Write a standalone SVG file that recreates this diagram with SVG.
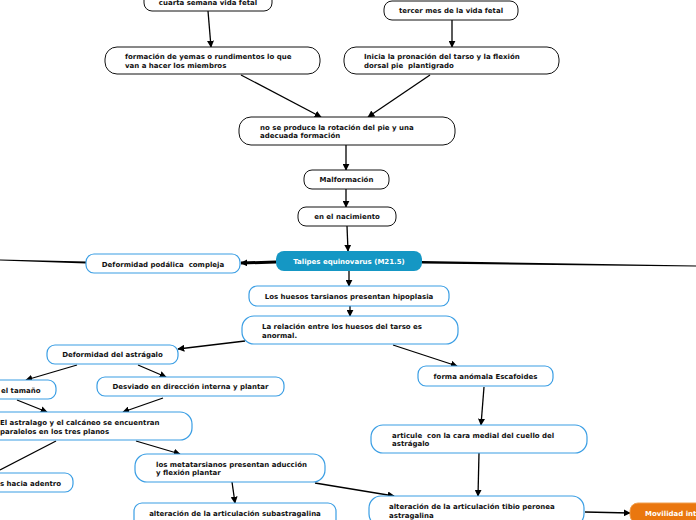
<svg xmlns="http://www.w3.org/2000/svg" width="696" height="520" viewBox="0 0 696 520">
<defs>
<style>
.t{font-family:"DejaVu Sans","Verdana",sans-serif;font-weight:bold;font-size:7px;fill:#111;white-space:pre}
.c{text-anchor:middle}
.w{fill:#fff}
.nb{fill:#fff;stroke:#111;stroke-width:1}
.nu{fill:#fff;stroke:#3a9ee4;stroke-width:1.2}
.ln{stroke:#000;stroke-width:1.3;fill:none;marker-end:url(#ah)}
.lp{stroke:#000;stroke-width:1.3;fill:none}
</style>
<marker id="ah" viewBox="0 0 10 10" refX="9" refY="5" markerWidth="7" markerHeight="7" markerUnits="userSpaceOnUse" orient="auto">
<path d="M0,0 L10,5 L0,10 z" fill="#000"/>
</marker>
</defs>
<rect width="696" height="520" fill="#fff"/>
<g id="connectors">
<line class="ln" x1="208" y1="11" x2="211" y2="47"/>
<line class="ln" x1="452" y1="20" x2="452" y2="47"/>
<line class="ln" x1="241" y1="75" x2="321" y2="117"/>
<line class="ln" x1="430" y1="75" x2="368" y2="117"/>
<line class="ln" x1="346" y1="145" x2="346" y2="170"/>
<line class="ln" x1="346" y1="189" x2="346" y2="207"/>
<line class="ln" x1="347" y1="226" x2="348" y2="251"/>
<line class="ln" x1="276" y1="262" x2="241" y2="263" style="stroke-width:3"/>
<polygon points="0,259.5 86,261.5 86,263.5 0,260.5" fill="#000"/>
<polygon points="422,261 696,265.5 696,266.5 422,263.5" fill="#000"/>
<line class="ln" x1="349" y1="270" x2="349" y2="286"/>
<line class="ln" x1="350" y1="306" x2="350" y2="316"/>
<line class="ln" x1="245" y1="341" x2="178" y2="349"/>
<line class="ln" x1="393" y1="345" x2="457" y2="366"/>
<line class="ln" x1="77" y1="365" x2="26" y2="380"/>
<line class="ln" x1="138" y1="365" x2="166" y2="377"/>
<line class="ln" x1="17" y1="400" x2="47" y2="412"/>
<line class="ln" x1="163" y1="398" x2="123" y2="412"/>
<line class="lp" x1="56" y1="441" x2="0" y2="470"/>
<line class="ln" x1="136" y1="441" x2="180" y2="454"/>
<line class="ln" x1="232" y1="482" x2="235" y2="503"/>
<line class="ln" x1="315" y1="483" x2="394" y2="496"/>
<line class="ln" x1="484" y1="387" x2="481" y2="425"/>
<line class="ln" x1="479" y1="453" x2="478" y2="496"/>
<line class="ln" x1="585" y1="512" x2="630" y2="513"/>
</g>
<g id="n1"><rect class="nb" x="144" y="-10" width="128" height="21" rx="8"/><text class="t c" x="208" y="5">cuarta semana vida fetal</text></g>
<g id="n2"><rect class="nb" x="384" y="1" width="134" height="19" rx="8"/><text class="t c" x="451" y="13">tercer mes de la vida fetal</text></g>
<g id="n3"><rect class="nb" x="105" y="47" width="215" height="27" rx="12"/><text class="t" x="125" y="59">formación de yemas o rundimentos lo que</text><text class="t" x="125" y="68">van a hacer los miembros</text></g>
<g id="n4"><rect class="nb" x="344" y="47" width="215" height="27" rx="12"/><text class="t" x="364" y="59">Inicia la pronación del tarso y la flexión</text><text class="t" x="364" y="68">dorsal pie  plantigrado</text></g>
<g id="n5"><rect class="nb" x="239" y="117" width="216" height="28" rx="12"/><text class="t" x="260" y="130">no se produce la rotación del pie y una</text><text class="t" x="260" y="138">adecuada formación</text></g>
<g id="n6"><rect class="nb" x="304" y="170" width="85" height="19" rx="8"/><text class="t c" x="346.5" y="182">Malformación</text></g>
<g id="n7"><rect class="nb" x="298" y="207" width="98" height="19" rx="8"/><text class="t c" x="347" y="219">en el nacimiento</text></g>
<g id="n8"><rect x="276" y="251" width="146" height="20" rx="8" fill="#1597c4"/><text class="t c w" x="349" y="264">Talipes equinovarus (M21.5)</text></g>
<g id="n9"><rect class="nu" x="86" y="254" width="154" height="19" rx="8"/><text class="t c" x="163" y="267">Deformidad podálica  compleja</text></g>
<g id="n10"><rect class="nu" x="249" y="286" width="200" height="20" rx="8"/><text class="t c" x="349" y="299">Los huesos tarsianos presentan hipoplasia</text></g>
<g id="n11"><rect class="nu" x="242" y="316" width="216" height="28" rx="12"/><text class="t" x="262" y="329">La relación entre los huesos del tarso es</text><text class="t" x="262" y="338">anormal.</text></g>
<g id="n12"><rect class="nu" x="47" y="345" width="131" height="19" rx="8"/><text class="t c" x="112.5" y="357">Deformidad del astrágalo</text></g>
<g id="n13"><rect class="nu" x="-60" y="380" width="116" height="19" rx="8"/><text class="t" x="1" y="393">el tamaño</text></g>
<g id="n14"><rect class="nu" x="97" y="377" width="187" height="19" rx="8"/><text class="t c" x="190.5" y="389">Desviado en dirección interna y plantar</text></g>
<g id="n15"><rect class="nu" x="-30" y="412" width="222" height="28" rx="12"/><text class="t" x="0" y="425">El astralago y el calcáneo se encuentran</text><text class="t" x="0" y="434">paralelos en los tres planos</text></g>
<g id="n16"><rect class="nu" x="-60" y="473" width="133" height="19" rx="8"/><text class="t" x="0" y="486">s hacia adentro</text></g>
<g id="n17"><rect class="nu" x="135" y="454" width="190" height="28" rx="12"/><text class="t" x="156" y="467">los metatarsianos presentan aducción</text><text class="t" x="156" y="475">y flexión plantar</text></g>
<g id="n18"><rect class="nu" x="134" y="503" width="202" height="25" rx="8"/><text class="t c" x="235" y="516">alteración de la articulación subastragalina</text></g>
<g id="n19"><rect class="nu" x="418" y="366" width="135" height="20" rx="8"/><text class="t c" x="485.5" y="379">forma anómala Escafoides</text></g>
<g id="n20"><rect class="nu" x="371" y="425" width="216" height="28" rx="12"/><text class="t" x="392" y="438">articule  con la cara medial del cuello del</text><text class="t" x="392" y="446">astrágalo</text></g>
<g id="n21"><rect class="nu" x="369" y="496" width="215" height="30" rx="12"/><text class="t" x="389" y="509">alteración de la articulación tibio peronea</text><text class="t" x="389" y="518">astragalina</text></g>
<g id="n22"><rect x="630" y="503" width="120" height="20" rx="8" fill="#ea770f" stroke="#f0a050" stroke-width="1"/><text class="t w" x="645" y="516">Movilidad int</text></g>
</svg>
